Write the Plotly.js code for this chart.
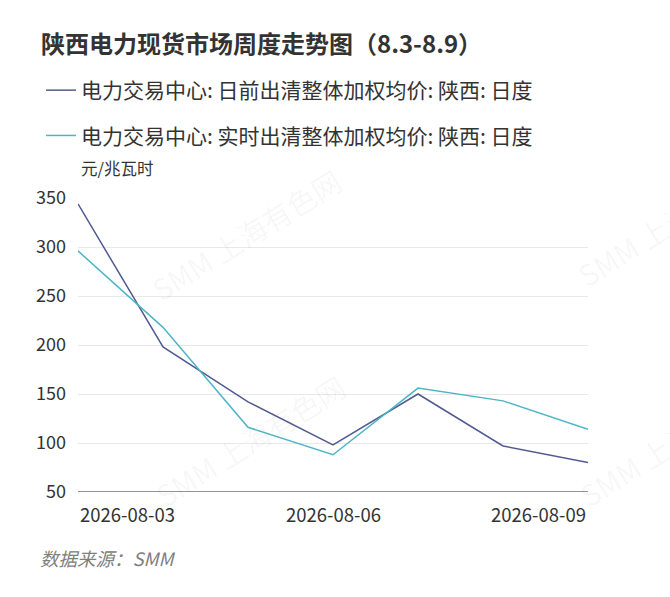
<!DOCTYPE html>
<html>
<head>
<meta charset="utf-8">
<script src="https://cdn.plot.ly/plotly-3.0.1.min.js"></script>
<style>
  html, body { margin: 0; padding: 0; background: #fff; }
  #chart { width: 670px; height: 597px; }
</style>
</head>
<body>
<div id="chart"></div>
<script>
const dates = ['2026-08-03', '2026-08-04', '2026-08-05', '2026-08-06', '2026-08-07', '2026-08-08', '2026-08-09'];
const dayAhead = [344, 198, 142, 98, 150, 97, 80];
const realTime = [296, 218, 116, 88, 156, 143, 114];
const seriesNames = [
  '电力交易中心: 日前出清整体加权均价: 陕西: 日度',
  '电力交易中心: 实时出清整体加权均价: 陕西: 日度'
];
const xTicks = ['2026-08-03', '2026-08-06', '2026-08-09'];
const yTicks = [50, 100, 150, 200, 250, 300, 350];

const font = '"Noto Sans CJK SC", "Noto Sans", sans-serif';
// plot box in pixels: left 78, right 588, top 198, bottom 492
const px = p => (p - 78) / 510;
const py = p => (492 - p) / 294;

const traces = [
  {
    x: dates, y: dayAhead, name: seriesNames[0], type: 'scatter', mode: 'lines',
    line: { color: '#525b8f', width: 1.5 }, legendgroup: 'a'
  },
  {
    x: dates, y: realTime, name: seriesNames[1], type: 'scatter', mode: 'lines',
    line: { color: '#4db5c6', width: 1.5 }, legendgroup: 'b'
  }
];

// watermark, centres in pixels
const marks = [[246, 234], [250, 440], [672, 220], [674, 440]].map(([x, y]) => ({
  xref: 'paper', yref: 'paper', x: px(x), y: py(y), xanchor: 'center', yanchor: 'middle',
  text: 'SMM 上海有色网', showarrow: false, textangle: -32,
  font: { family: font, size: 29, color: 'rgba(0,0,0,0.045)' }
}));

// x tick labels: first/last kept inside the plot like the original
const xLabels = xTicks.map((d, i) => ({
  xref: 'x', yref: 'paper', x: d, y: py(514),
  xanchor: i === 0 ? 'left' : (i === xTicks.length - 1 ? 'right' : 'center'),
  yanchor: 'middle', showarrow: false, text: d,
  font: { family: font, size: 18.5, color: '#333' }
}));

const layout = {
  width: 670, height: 597,
  margin: { l: 78, r: 82, t: 198, b: 105 },
  paper_bgcolor: '#fff', plot_bgcolor: '#fff',
  font: { family: font, color: '#333' },
  title: {
    text: '<b>陕西电力现货市场周度走势图（8.3-8.9）</b>',
    font: { family: font, size: 24, color: '#333' },
    x: 0, xref: 'container', xanchor: 'left', y: 1 - 45 / 597, yanchor: 'middle', pad: { l: 41 }
  },
  showlegend: true,
  legend: {
    x: px(41), xanchor: 'left', y: py(70), yanchor: 'top',
    font: { family: font, size: 21, color: '#333' },
    tracegroupgap: 15, bgcolor: 'rgba(0,0,0,0)'
  },
  xaxis: {
    type: 'category', showticklabels: false,
    showgrid: false, zeroline: false, showline: false, ticks: '', range: [0, 6]
  },
  yaxis: {
    range: [50, 350], tickmode: 'array', tickvals: yTicks,
    showgrid: true, gridcolor: '#e8e8e8', gridwidth: 1, zeroline: false, showline: false,
    ticks: '', ticklabelstandoff: 11,
    tickfont: { family: font, size: 18, color: '#333' }
  },
  shapes: [
    { type: 'line', xref: 'paper', yref: 'y', x0: 0, x1: 1, y0: 50, y1: 50,
      line: { color: '#6e7079', width: 1.5 } }
  ],
  annotations: [
    ...marks,
    ...xLabels,
    { xref: 'paper', yref: 'paper', x: px(79), y: py(168), xanchor: 'left', yanchor: 'middle',
      text: '元/兆瓦时', showarrow: false, font: { family: font, size: 16.5, color: '#333' } },
    { xref: 'paper', yref: 'paper', x: px(38), y: py(558), xanchor: 'left', yanchor: 'middle',
      text: '<i>数据来源：SMM</i>', showarrow: false, font: { family: font, size: 18.5, color: '#808080' } }
  ]
};

Plotly.newPlot('chart', traces, layout, { displayModeBar: false, staticPlot: true });
</script>
</body>
</html>
